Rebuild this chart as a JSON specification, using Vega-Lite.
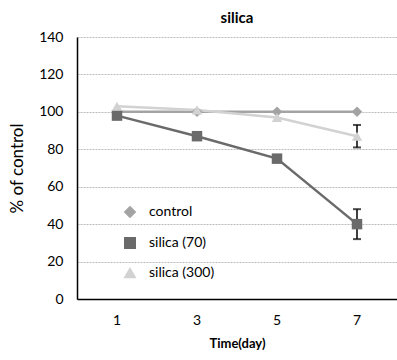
{
  "$schema": "https://vega.github.io/schema/vega-lite/v6.json",
  "autosize": {"type": "none"},
  "padding": {"left": 77, "top": 37, "right": 0, "bottom": 61},
  "width": 320,
  "height": 262,
  "background": "white",
  "config": {
    "font": "Lato",
    "view": {"stroke": null},
    "legend": {"orient": "none", "legendX": 46, "legendY": 168, "labelFontSize": 14, "labelColor": "black", "rowPadding": 13, "symbolSize": 110, "labelOffset": 12, "title": null},
    "axisY": {"titleFontSize": 17, "titleFontWeight": "normal", "titleColor": "black", "titlePadding": 12, "labelFontSize": 14, "labelColor": "black", "ticks": false, "labelPadding": 14, "domainColor": "black", "domainWidth": 1.5, "gridColor": "#bbbbbb", "gridDash": [2, 1], "gridWidth": 1, "labelOverlap": false}
  },
  "title": {"text": "silica", "fontSize": 15, "fontWeight": "bold", "font": "Lato", "offset": 4, "color": "black"},
  "data": {
    "values": [
      {"day": "1", "series": "control", "value": 100},
      {"day": "3", "series": "control", "value": 100},
      {"day": "5", "series": "control", "value": 100},
      {"day": "7", "series": "control", "value": 100},
      {"day": "1", "series": "silica (70)", "value": 98},
      {"day": "3", "series": "silica (70)", "value": 87},
      {"day": "5", "series": "silica (70)", "value": 75},
      {"day": "7", "series": "silica (70)", "value": 40, "lo": 32, "hi": 48},
      {"day": "1", "series": "silica (300)", "value": 103},
      {"day": "3", "series": "silica (300)", "value": 101},
      {"day": "5", "series": "silica (300)", "value": 97},
      {"day": "7", "series": "silica (300)", "value": 87, "lo": 81, "hi": 93}
    ]
  },
  "encoding": {
    "x": {
      "field": "day", "type": "ordinal", "sort": ["1", "3", "5", "7"],
      "scale": {"paddingInner": 0, "paddingOuter": 0},
      "axis": {"title": "Time(day)", "titleFontSize": 13, "titleFontWeight": "bold", "titleColor": "black", "titlePadding": 10, "labelAngle": 0, "labelFontSize": 14, "labelColor": "black", "ticks": false, "labelPadding": 14, "domainColor": "black", "domainWidth": 1.5, "grid": false}
    }
  },
  "layer": [
    {
      "mark": {"type": "line", "strokeWidth": 2.5},
      "encoding": {
        "y": {"field": "value", "type": "quantitative", "scale": {"domain": [0, 140], "nice": false}, "title": "% of control",
          "axis": {"values": [0, 20, 40, 60, 80, 100, 120, 140]}},
        "color": {"field": "series", "type": "nominal", "sort": ["control", "silica (70)", "silica (300)"],
          "scale": {"domain": ["control", "silica (70)", "silica (300)"], "range": ["#a3a3a3", "#6a6a6a", "#d2d2d2"]}}
      }
    },
    {
      "mark": {"type": "rule", "color": "black", "strokeWidth": 1.5},
      "transform": [{"filter": "datum.lo != null"}],
      "encoding": {
        "y": {"field": "lo", "type": "quantitative", "title": "% of control", "axis": {"values": [0, 20, 40, 60, 80, 100, 120, 140]}},
        "y2": {"field": "hi"}
      }
    },
    {
      "mark": {"type": "tick", "color": "black", "size": 8, "thickness": 2, "orient": "horizontal"},
      "transform": [{"filter": "datum.lo != null"}],
      "encoding": {
        "y": {"field": "lo", "type": "quantitative", "title": "% of control", "axis": {"values": [0, 20, 40, 60, 80, 100, 120, 140]}}
      }
    },
    {
      "mark": {"type": "tick", "color": "black", "size": 8, "thickness": 2, "orient": "horizontal"},
      "transform": [{"filter": "datum.lo != null"}],
      "encoding": {
        "y": {"field": "hi", "type": "quantitative", "title": "% of control", "axis": {"values": [0, 20, 40, 60, 80, 100, 120, 140]}}
      }
    },
    {
      "mark": {"type": "point", "filled": true, "size": 110, "opacity": 1},
      "encoding": {
        "y": {"field": "value", "type": "quantitative", "title": "% of control", "axis": {"values": [0, 20, 40, 60, 80, 100, 120, 140]}},
        "color": {"field": "series", "type": "nominal", "sort": ["control", "silica (70)", "silica (300)"],
          "scale": {"domain": ["control", "silica (70)", "silica (300)"], "range": ["#a3a3a3", "#6a6a6a", "#d2d2d2"]}},
        "shape": {"field": "series", "type": "nominal", "sort": ["control", "silica (70)", "silica (300)"],
          "scale": {"domain": ["control", "silica (70)", "silica (300)"], "range": ["diamond", "square", "triangle-up"]}}
      }
    }
  ]
}
